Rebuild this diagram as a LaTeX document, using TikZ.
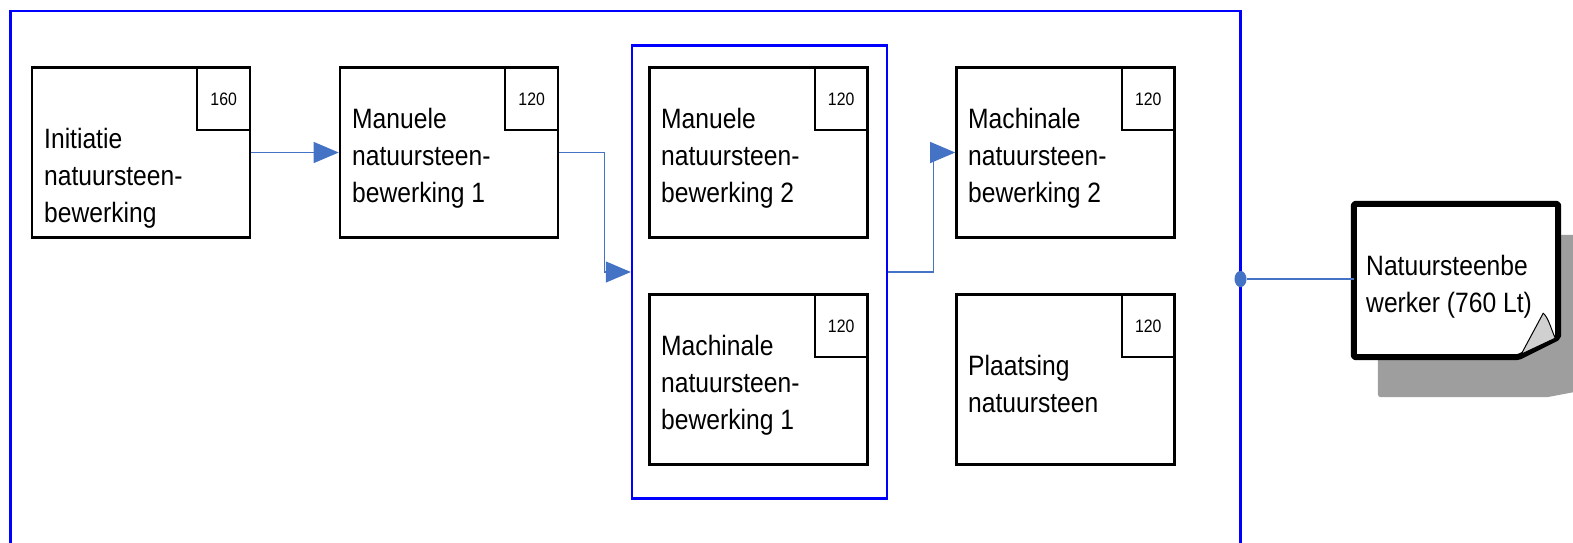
\documentclass[tikz,border=0pt]{standalone}
\usepackage{fontspec}
\setmainfont{Liberation Sans}
\newfontfamily\narrowfont[FakeStretch=0.88]{Liberation Sans}
\usetikzlibrary{arrows.meta}
\definecolor{conn}{RGB}{68,114,196}
\definecolor{frameblue}{RGB}{0,0,255}
\definecolor{shadowgray}{RGB}{158,158,158}
\definecolor{foldgray}{RGB}{208,208,208}
\tikzset{
  procbox/.style={draw=black, line width=2.6pt, fill=white, minimum width=218pt, minimum height=170pt, inner sep=0pt},
  numbox/.style={draw=black, line width=2.2pt, minimum width=53pt, minimum height=63pt, inner sep=0pt, anchor=north east, font=\narrowfont\fontsize{18}{20}\selectfont},
  boxtext/.style={anchor=north west, inner sep=0pt, align=left, font=\narrowfont\fontsize{28}{37}\selectfont},
  bluefr/.style={draw=frameblue, line width=2.4pt},
  connline/.style={draw=conn, line width=1.2pt},
  arr/.style={connline, -{Triangle[length=25pt, width=21pt]}},
}
\begin{document}
\begin{tikzpicture}[x=1pt, y=-1pt]
\useasboundingbox (0,0) rectangle (1573,542);
\clip (0,0) rectangle (1573,542);
% outer frame (open at bottom)
\draw[bluefr] (10.5,545) -- (10.5,11) -- (1240.5,11) -- (1240.5,545);
% inner group frame
\node[bluefr, minimum width=255pt, minimum height=453pt, inner sep=0pt] (grp) at (759.5,272) {};
% boxes
\node[procbox] (b1) at (141,152.5) {};
\node[procbox] (b2) at (449,152.5) {};
\node[procbox] (b3) at (758.5,152.5) {};
\node[procbox] (b4) at (758.5,379.5) {};
\node[procbox] (b5) at (1065.5,152.5) {};
\node[procbox] (b6) at (1065.5,379.5) {};
\node[numbox] (n1) at (b1.north east) {160};
\node[numbox] (n2) at (b2.north east) {120};
\node[numbox] (n3) at (b3.north east) {120};
\node[numbox] (n4) at (b4.north east) {120};
\node[numbox] (n5) at (b5.north east) {120};
\node[numbox] (n6) at (b6.north east) {120};
\node[boxtext] (t1) at (44,128) {Initiatie\\natuursteen-\\bewerking};
\node[boxtext] (t2) at (352,108) {Manuele\\natuursteen-\\bewerking 1};
\node[boxtext] (t3) at (661,108) {Manuele\\natuursteen-\\bewerking 2};
\node[boxtext] (t4) at (661,335) {Machinale\\natuursteen-\\bewerking 1};
\node[boxtext] (t5) at (968,108) {Machinale\\natuursteen-\\bewerking 2};
\node[boxtext] (t6) at (968,355) {Plaatsing\\natuursteen};
% connectors
\draw[arr] (b1.east) -- (b2.west);
\draw[arr] (b2.east) -- ++(45,0) |- (grp.west);
\draw[arr] (grp.east) -- ++(45,0) |- (b5.west);
% document shape
\node[minimum width=204pt, minimum height=153pt, inner sep=0pt] (doc) at (1456,280.5) {};
\fill[shadowgray, rounded corners=3pt]
  ([xshift=24pt,yshift=-31pt]doc.north west) -- ([xshift=130pt,yshift=-31pt]doc.north east) --
  ([xshift=130pt,yshift=-13pt]doc.south east) -- ([xshift=-11pt,yshift=-40pt]doc.south east) --
  ([xshift=24pt,yshift=-40pt]doc.south west) -- cycle;
\filldraw[fill=white, draw=black, line width=6pt, line join=round, rounded corners=2pt]
  (doc.north west) -- (doc.north east) -- ([yshift=20pt]doc.south east) --
  ([xshift=-40pt]doc.south east) -- (doc.south west) -- cycle;
\filldraw[fill=foldgray, draw=black, line width=1pt, line join=round]
  ([xshift=-37pt,yshift=3pt]doc.south east) -- ([xshift=-15pt,yshift=44pt]doc.south east)
  .. controls ([xshift=-10pt,yshift=40pt]doc.south east) and ([xshift=-7pt,yshift=28pt]doc.south east) ..
  ([xshift=-3pt,yshift=19pt]doc.south east) -- cycle;
\node[boxtext] (dt) at (1366,255) {Natuursteenbe\\werker (760 Lt)};
\node[circle, fill=conn, minimum width=12pt, minimum height=12pt, inner sep=0pt, yscale=1.35] (dot) at (1240.5,279) {};
\draw[connline] (dot) -- (dot -| doc.west);
\end{tikzpicture}
\end{document}
